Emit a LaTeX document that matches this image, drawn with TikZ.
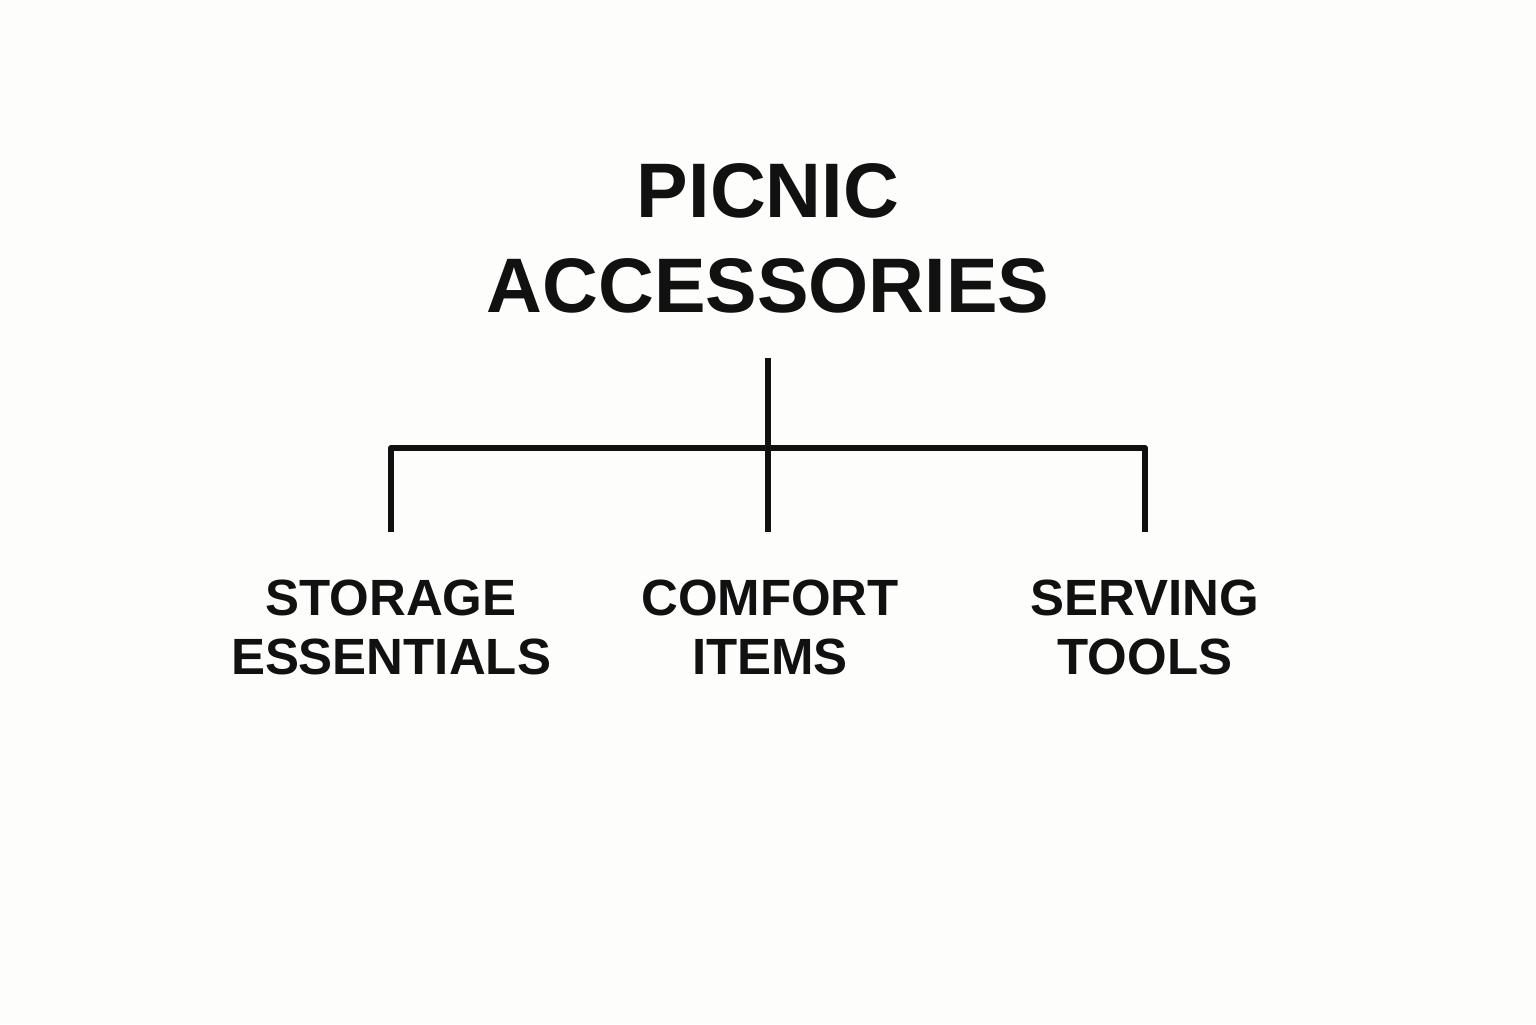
\documentclass[tikz,border=0pt]{standalone}
\usepackage{fontspec}
\setmainfont{Liberation Sans}
\usepackage{tikz}
\definecolor{paper}{RGB}{253,253,251}
\definecolor{ink}{RGB}{17,17,17}

\begin{document}
\begin{tikzpicture}[
    head/.style={font=\bfseries\fontsize{22}{27}\selectfont, text=ink, align=center, inner sep=0pt, outer ysep=4.5mm},
    leaf/.style={font=\bfseries\fontsize{14.5}{17}\selectfont, text=ink, align=center, inner sep=0pt, outer ysep=4.8mm},
    branch/.style={line width=1.7pt, line join=round, color=ink}]
    \useasboundingbox [fill=paper] (0,0) rectangle (15.36,-10.24);
    \draw (7.68,-2.385) node [head] (title) {PICNIC\\ACCESSORIES};
    \draw (3.91,-6.275) node [leaf] (storage) {STORAGE\\ESSENTIALS};
    \draw (7.70,-6.275) node [leaf] (comfort) {COMFORT\\ITEMS};
    \draw (11.45,-6.275) node [leaf] (serving) {SERVING\\TOOLS};
    \coordinate (hub) at (7.68,-4.48);
    \draw [branch] (title.south) -- (title.south |- comfort.north);
    \draw [branch] (storage.north) |- (hub) -| (serving.north);
\end{tikzpicture}
\end{document}
